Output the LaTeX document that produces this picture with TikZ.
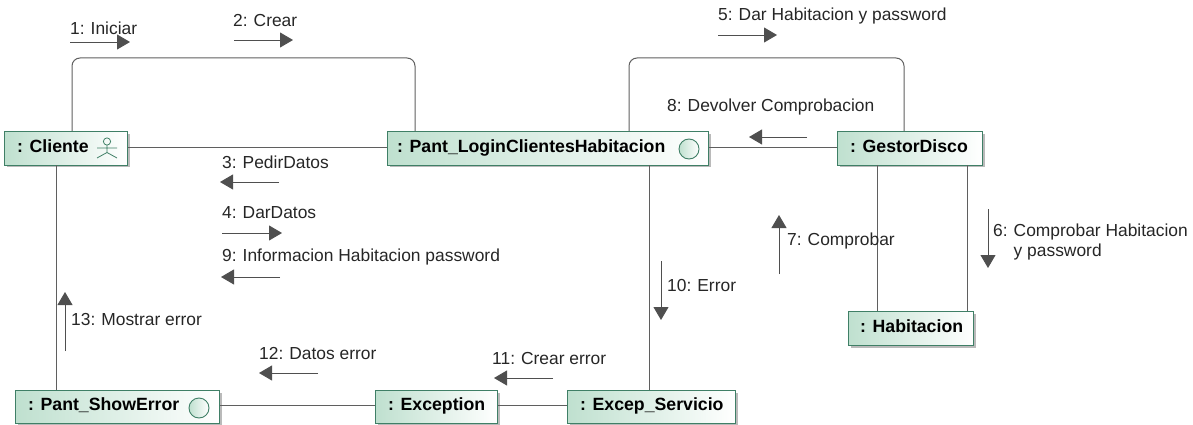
\documentclass[tikz,border=0pt]{standalone}
\usepackage{fontspec}
\setmainfont{Liberation Sans}
\usetikzlibrary{arrows.meta,shadows,calc}
\definecolor{bdr}{HTML}{3F7F66}
\definecolor{fillg}{HTML}{BFE0CF}
\definecolor{lnc}{HTML}{5F5F5F}
\definecolor{arc}{HTML}{4F4F4F}
\tikzset{
 obj/.style={draw=bdr,line width=0.9pt,left color=fillg,right color=white,
   drop shadow={shadow xshift=2.5pt,shadow yshift=-2.5pt,opacity=.45,fill=black!60},
   inner sep=0pt,anchor=north west},
 objtxt/.style={font=\fontsize{17.7}{20}\selectfont\bfseries,anchor=base west,inner sep=0pt},
 conn/.style={draw=lnc,line width=1pt},
 msg/.style={draw=arc,line width=0.9pt,-{Triangle[length=13pt,width=15pt]}},
 lab/.style={font=\fontsize{17.4}{19.5}\selectfont,anchor=west,inner sep=0pt,text=black!85,align=left},
 iface/.style={draw=bdr,line width=0.9pt,left color=fillg,right color=white,circle,minimum size=20pt,inner sep=0pt},
 actor/.style={draw=bdr,line width=0.8pt}
}
\newcommand{\objbox}[6]{\node[obj,minimum width=#4pt,minimum height=#5pt] (#1) at (#2,#3) {};
  \node[objtxt] (#1txt) at ($(#1.west)+(#6pt,-4pt)$) {\objtext};}
\newcommand{\msgarrow}[5]{\coordinate (#1a) at (#2,#3);\coordinate (#1b) at (#4,#5);\draw[msg] (#1a) -- (#1b);}
\begin{document}
\begin{tikzpicture}[x=1pt,y=-1pt]
\useasboundingbox (0,0) rectangle (1193,425);
\def\objtext{: Cliente}\objbox{cli}{4}{131}{123}{33.5}{13}
\def\objtext{: Pant\_LoginClientesHabitacion}\objbox{login}{387}{131}{321}{33.5}{10}
\def\objtext{: GestorDisco}\objbox{gestor}{837}{131}{145}{33.5}{13}
\def\objtext{: Habitacion}\objbox{hab}{848}{311}{125}{34}{12}
\def\objtext{: Pant\_ShowError}\objbox{show}{15}{390}{204}{33}{13}
\def\objtext{: Exception}\objbox{exc}{375}{390}{122}{33}{13}
\def\objtext{: Excep\_Servicio}\objbox{serv}{567}{390}{168}{33}{13}
% icons
\node[iface] (ic1) at (689,149) {};
\node[iface] (ic2) at (199,408) {};
\draw[actor] (107,141.5) circle (3.6pt);
\draw[actor] (107,145) -- (107,152.5) (97,148) -- (117,148) (97,158) -- (107,152.5) -- (117,158);
% connectors
\draw[conn,rounded corners=8pt] ([xshift=68pt]cli.north west) |- (243,58) -| ([xshift=28pt]login.north west);
\draw[conn,rounded corners=8pt] ([xshift=242pt]login.north west) |- (766,58) -| ([xshift=67pt]gestor.north west);
\draw[conn] ([yshift=1pt]cli.east) -- ([yshift=1pt]login.west);
\draw[conn] ([yshift=1pt]login.east) -- ([yshift=1pt]gestor.west);
\draw[conn] ([xshift=52pt]cli.south west) -- ([xshift=41pt]show.north west);
\draw[conn] ([xshift=262pt]login.south west) -- ([xshift=82pt]serv.north west);
\draw[conn] ([xshift=40pt]gestor.south west) -- ([xshift=29pt]hab.north west);
\draw[conn] ([xshift=130pt]gestor.south west) -- ([xshift=119pt]hab.north west);
\draw[conn] ([yshift=1pt]show.east) -- ([yshift=1pt]exc.west);
\draw[conn] ([yshift=1pt]exc.east) -- ([yshift=1pt]serv.west);
% messages
\msgarrow{m1}{70}{42}{130}{42}
\msgarrow{m2}{234}{40}{293}{40}
\msgarrow{m3}{279}{182}{220}{182}
\msgarrow{m4}{222}{233}{282}{233}
\msgarrow{m5}{718}{35}{777}{35}
\msgarrow{m6}{988}{209}{988}{268}
\msgarrow{m7}{779}{274}{779}{215}
\msgarrow{m8}{807}{137}{749}{137}
\msgarrow{m9}{280}{277}{221}{277}
\msgarrow{m10}{661}{261}{661}{320}
\msgarrow{m11}{553}{378}{494}{378}
\msgarrow{m12}{318}{373}{259}{373}
\msgarrow{m13}{65}{351}{65}{292}
% labels
\node[lab] (l1) at (70,28) {1:\hspace{6pt}Iniciar};
\node[lab] (l2) at (233,21) {2:\hspace{6pt}Crear};
\node[lab] (l3) at (222,162) {3:\hspace{6pt}PedirDatos};
\node[lab] (l4) at (222,213) {4:\hspace{6pt}DarDatos};
\node[lab] (l5) at (718,16) {5:\hspace{6pt}Dar Habitacion y password};
\node[lab] (l6) at (993,242) {6:\hspace{6pt}Comprobar Habitacion\\\hspace*{20.5pt}y password};
\node[lab] (l7) at (787,241) {7:\hspace{6pt}Comprobar};
\node[lab] (l8) at (667,107) {8:\hspace{6pt}Devolver Comprobacion};
\node[lab] (l9) at (222,257) {9:\hspace{6pt}Informacion Habitacion password};
\node[lab] (l10) at (667,286) {10:\hspace{6pt}Error};
\node[lab] (l11) at (492,359) {11:\hspace{6pt}Crear error};
\node[lab] (l12) at (259,354) {12:\hspace{6pt}Datos error};
\node[lab] (l13) at (71,320) {13:\hspace{6pt}Mostrar error};
\end{tikzpicture}
\end{document}
